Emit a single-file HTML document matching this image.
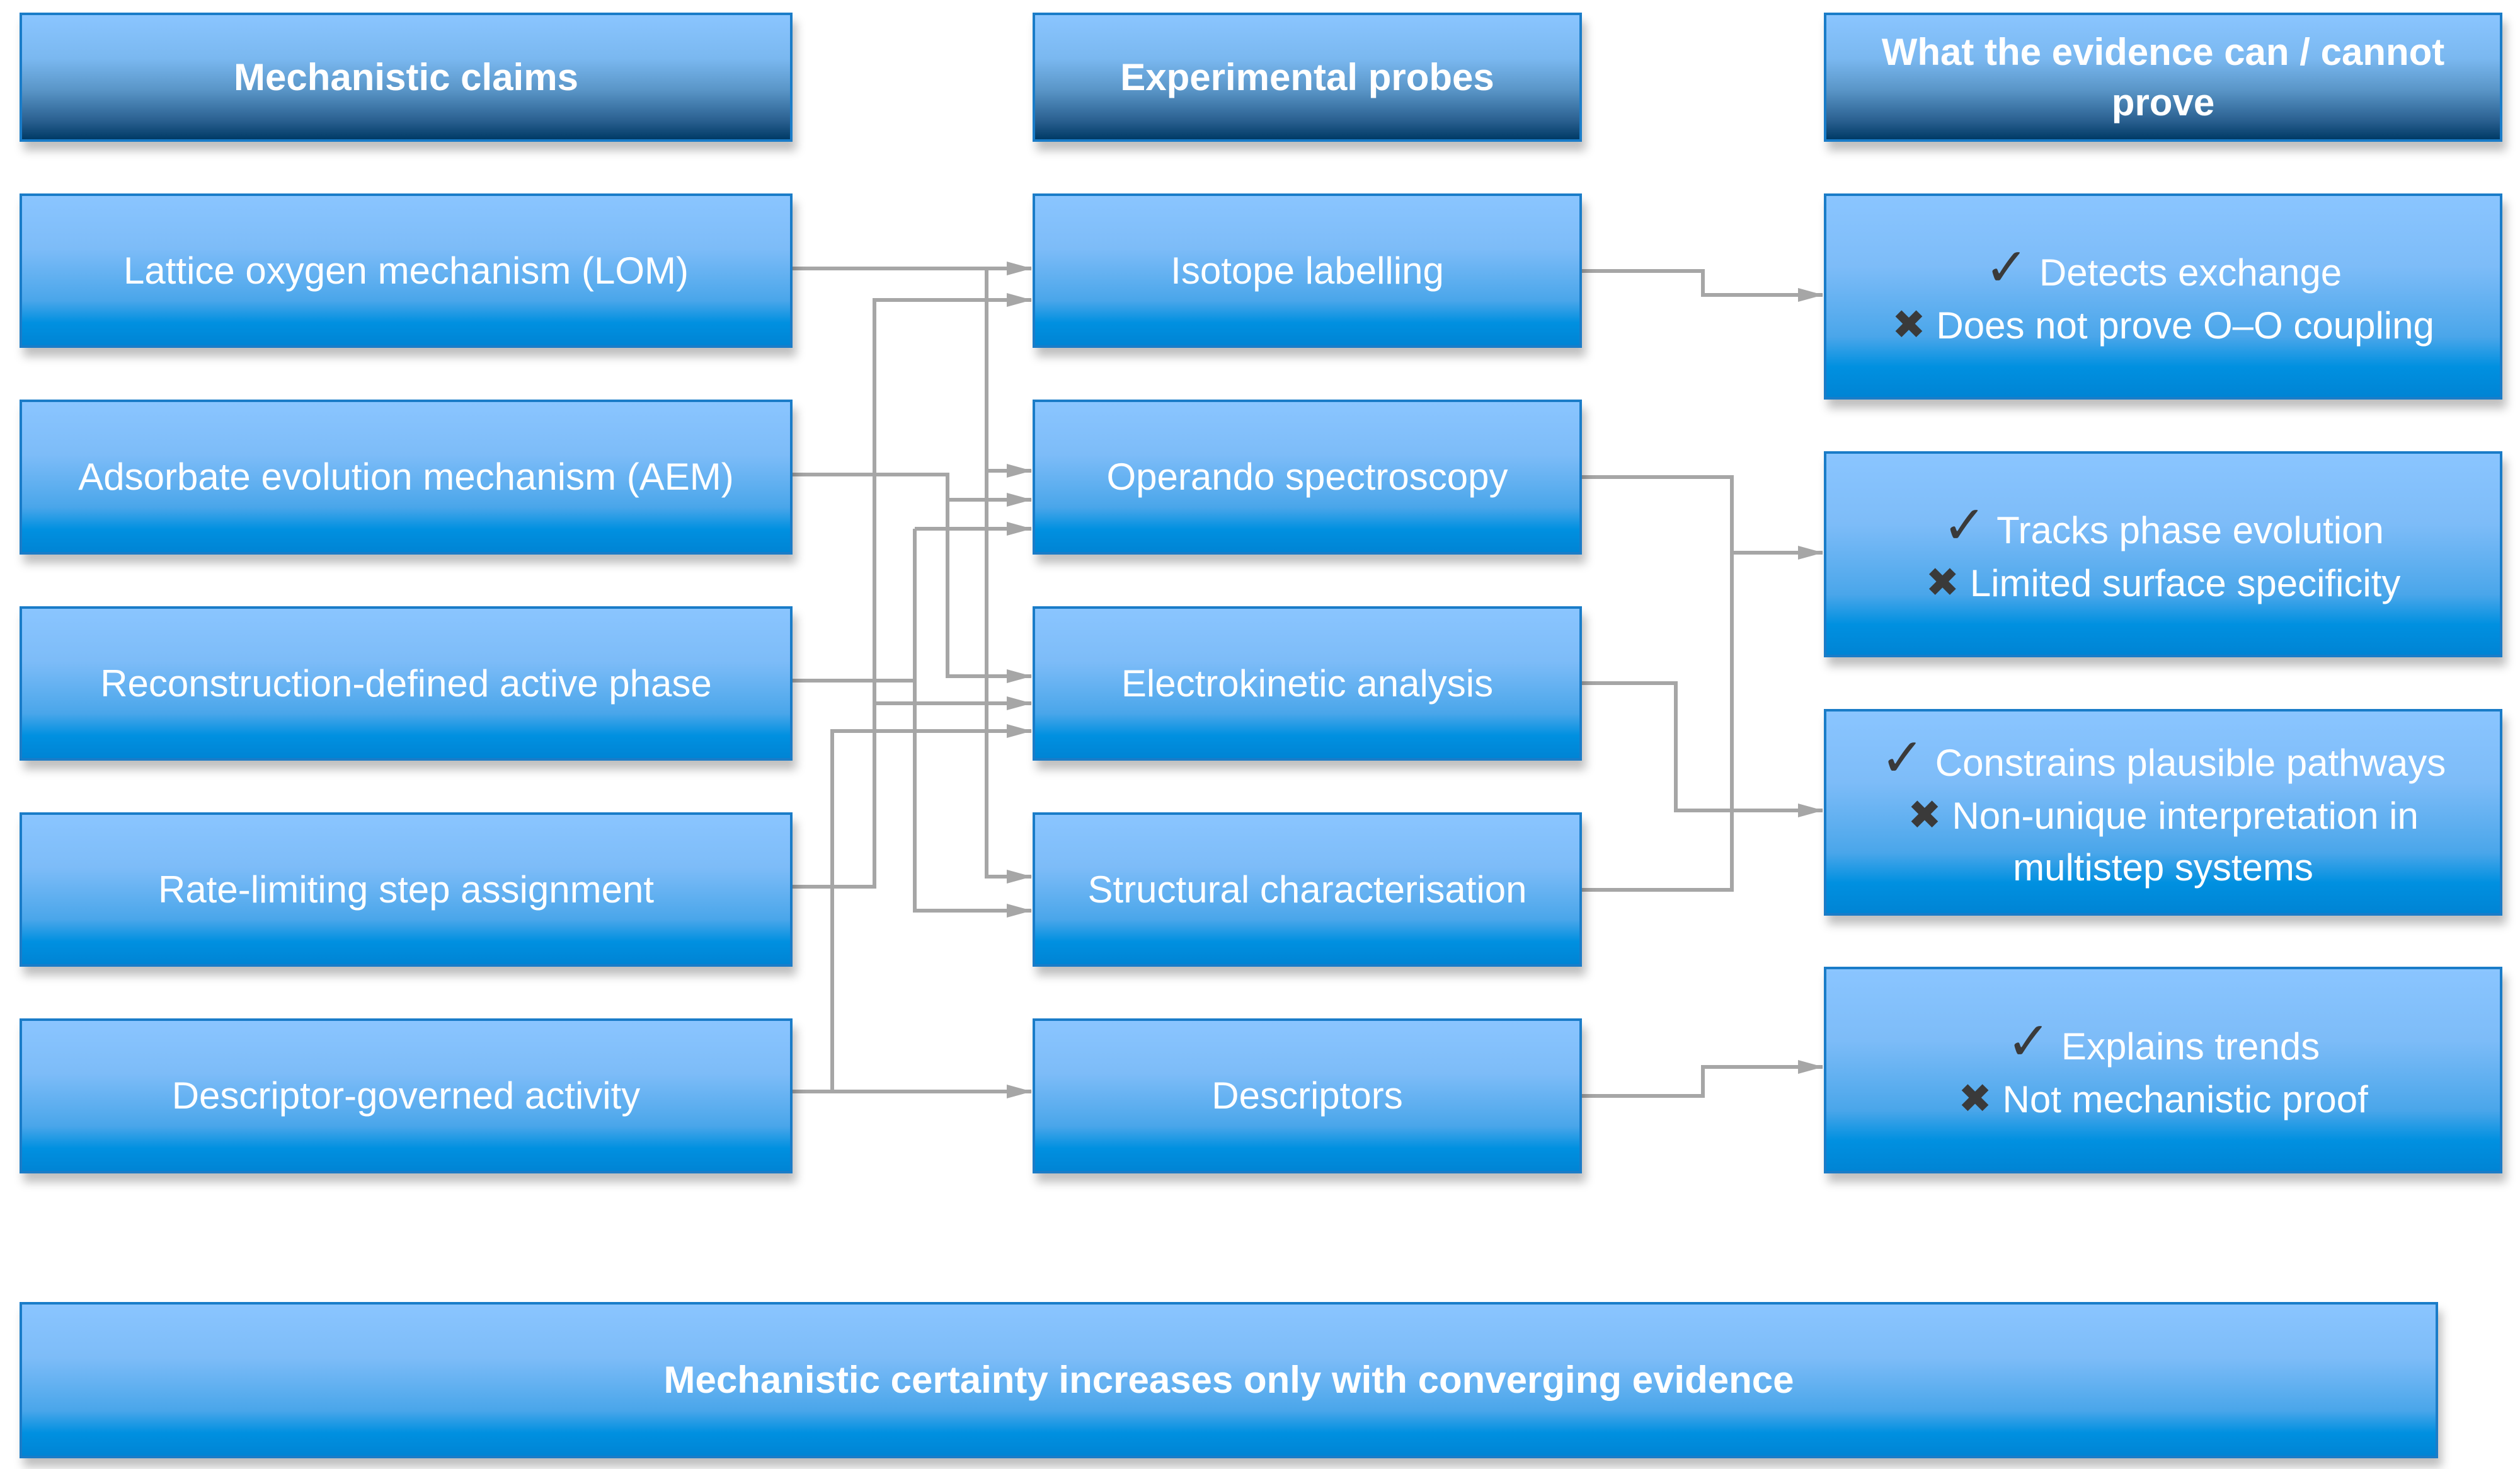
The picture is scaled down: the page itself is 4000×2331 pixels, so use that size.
<!DOCTYPE html>
<html><head><meta charset="utf-8"><style>
html,body{margin:0;padding:0;background:#fff;}
body{width:4000px;height:2331px;position:relative;overflow:hidden;font-family:"Liberation Sans","DejaVu Sans",sans-serif;}
.b{position:absolute;box-sizing:border-box;border:4px solid #1a7cc8;display:flex;align-items:center;justify-content:center;text-align:center;color:#fff;font-size:60px;line-height:82px;
background:linear-gradient(to bottom,#8ac5ff 0%,#7dbcf8 35%,#4aa6ea 70%,#0090e0 85%,#0084d4 100%);box-shadow:6px 14px 14px rgba(0,0,0,0.25);}
.h{font-weight:bold;font-size:60px;line-height:80px;background:linear-gradient(to bottom,#8ac5ff 0%,#7ab8f0 35%,#5a96c8 60%,#2a6090 85%,#003a66 100%);}
.ck{color:#3a3a3a;font-weight:bold;font-size:84px;}
.x{color:#3a3a3a;font-weight:bold;font-size:64px;}
svg{position:absolute;left:0;top:0;}
</style></head><body>
<svg width="4000" height="2331">
<defs><marker id="a" markerWidth="40" markerHeight="26" refX="39" refY="13" orient="auto" markerUnits="userSpaceOnUse"><path d="M0,2 L40,13 L0,24 Z" fill="#a6a6a6"/></marker></defs>
<g fill="none" stroke="#a6a6a6" stroke-width="6">
<path d="M1258,426 H1637" marker-end="url(#a)"/>
<path d="M1566,426 V1391 H1637" marker-end="url(#a)"/>
<path d="M1566,747 H1637" marker-end="url(#a)"/>
<path d="M1258,1407 H1388 V476 H1637" marker-end="url(#a)"/>
<path d="M1388,1116 H1637" marker-end="url(#a)"/>
<path d="M1258,753 H1504 V1073 H1637" marker-end="url(#a)"/>
<path d="M1504,793 H1637" marker-end="url(#a)"/>
<path d="M1258,1080 H1452"/>
<path d="M1452,839 V1445 H1637" marker-end="url(#a)"/>
<path d="M1452,839 H1637" marker-end="url(#a)"/>
<path d="M1258,1732 H1637" marker-end="url(#a)"/>
<path d="M1321,1732 V1160 H1637" marker-end="url(#a)"/>
<path d="M2511,430 H2703 V468 H2893" marker-end="url(#a)"/>
<path d="M2511,757 H2749 V1412 H2511"/>
<path d="M2749,877 H2893" marker-end="url(#a)"/>
<path d="M2511,1084 H2660 V1286 H2893" marker-end="url(#a)"/>
<path d="M2511,1739 H2703 V1693 H2893" marker-end="url(#a)"/>
</g></svg>

<div class="b h" style="left:31px;top:20px;width:1227px;height:205px;">Mechanistic claims</div>
<div class="b h" style="left:1639px;top:20px;width:872px;height:205px;">Experimental probes</div>
<div class="b h" style="left:2895px;top:20px;width:1077px;height:205px;">What the evidence can / cannot<br>prove</div>

<div class="b" style="left:31px;top:307px;width:1227px;height:245px;">Lattice oxygen mechanism (LOM)</div>
<div class="b" style="left:31px;top:634px;width:1227px;height:246px;">Adsorbate evolution mechanism (AEM)</div>
<div class="b" style="left:31px;top:962px;width:1227px;height:245px;">Reconstruction-defined active phase</div>
<div class="b" style="left:31px;top:1289px;width:1227px;height:245px;">Rate-limiting step assignment</div>
<div class="b" style="left:31px;top:1616px;width:1227px;height:246px;">Descriptor-governed activity</div>

<div class="b" style="left:1639px;top:307px;width:872px;height:245px;">Isotope labelling</div>
<div class="b" style="left:1639px;top:634px;width:872px;height:246px;">Operando spectroscopy</div>
<div class="b" style="left:1639px;top:962px;width:872px;height:245px;">Electrokinetic analysis</div>
<div class="b" style="left:1639px;top:1289px;width:872px;height:245px;">Structural characterisation</div>
<div class="b" style="left:1639px;top:1616px;width:872px;height:246px;">Descriptors</div>

<div class="b" style="left:2895px;top:307px;width:1077px;height:327px;"><div><span class="ck">✓</span> Detects exchange<br><span class="x">✖</span> Does not prove O–O coupling</div></div>
<div class="b" style="left:2895px;top:716px;width:1077px;height:327px;"><div><span class="ck">✓</span> Tracks phase evolution<br><span class="x">✖</span> Limited surface specificity</div></div>
<div class="b" style="left:2895px;top:1125px;width:1077px;height:328px;"><div><span class="ck">✓</span> Constrains plausible pathways<br><span class="x">✖</span> Non-unique interpretation in<br>multistep systems</div></div>
<div class="b" style="left:2895px;top:1534px;width:1077px;height:328px;"><div><span class="ck">✓</span> Explains trends<br><span class="x">✖</span> Not mechanistic proof</div></div>

<div class="b" style="left:31px;top:2066px;width:3839px;height:248px;font-weight:bold;font-size:60px;">Mechanistic certainty increases only with converging evidence</div>
</body></html>
